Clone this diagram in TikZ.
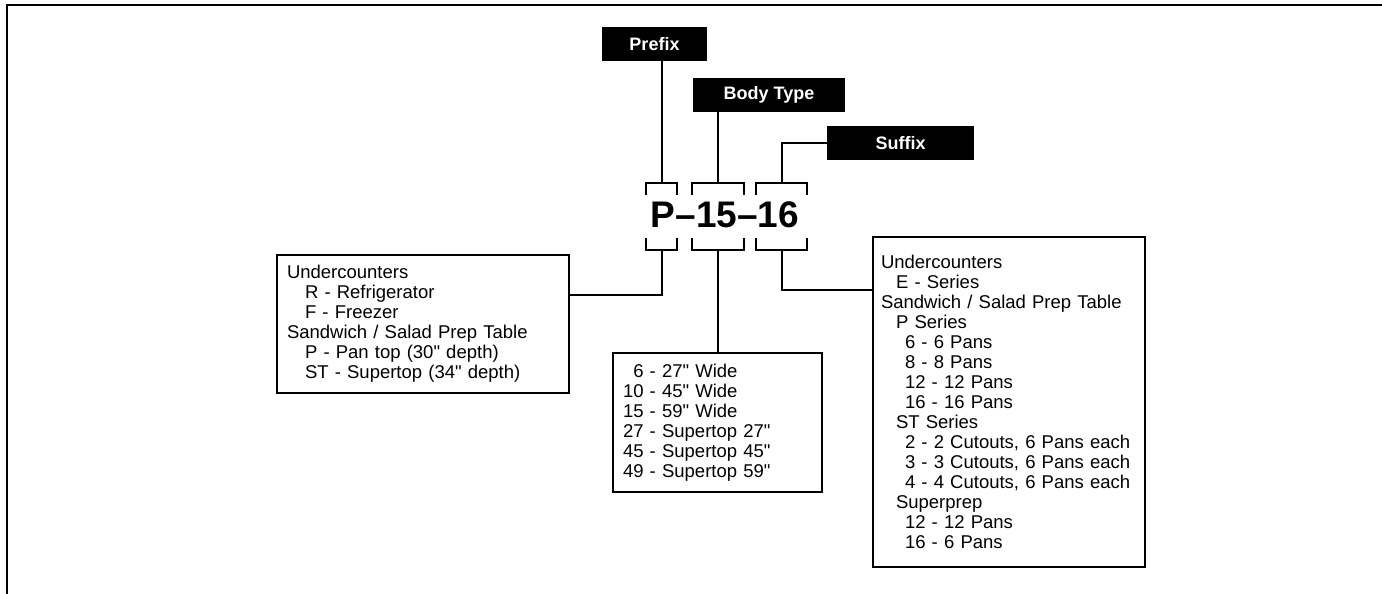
\documentclass[tikz,border=0pt]{standalone}
\usepackage{fontspec}
\newfontfamily\arial{Liberation Sans}
\usepackage{tikz}
\usetikzlibrary{calc}

\tikzset{
  wire/.style={line width=1pt},
  tagbox/.style={fill=black, text=white, inner sep=0pt, minimum height=17pt,
    font=\arial\fontsize{9}{10}\selectfont\bfseries},
  listbox/.style={draw, line width=1pt, align=left, inner xsep=5pt, inner ysep=0pt,
    font=\arial\fontsize{9.25}{10}\selectfont},
}

\begin{document}
\begin{tikzpicture}[x=0.5pt, y=-0.5pt]
  \useasboundingbox (0,0) rectangle (1382,594);
  \draw[wire] (1382,5) -- (7,5) -- (7,594);

  % heading tags
  \node[tagbox, minimum width=52.5pt] (prefix) at (654.5,44) {Prefix};
  \node[tagbox, minimum width=76pt] (bodytype) at (769,95) {Body Type};
  \node[tagbox, minimum width=73.5pt] (suffix) at (900.5,143) {Suffix};

  % model number and its brackets
  \node[font=\arial\fontsize{18.5}{20}\selectfont\bfseries] (model) at (725,215) {P–15–16};
  \foreach \name/\xa/\xb in {P/646/677, B/692/744, S/756/807} {
    \draw[wire] (\xa,195) -- (\xa,183) -- (\xb,183) -- (\xb,195);
    \draw[wire] (\xa,238) -- (\xa,250) -- (\xb,250) -- (\xb,238);
    \coordinate (top\name) at ({(\xa+\xb)/2},183);
    \coordinate (bot\name) at ({(\xa+\xb)/2},250);
  }
  \draw[wire] (topP) -- (topP |- prefix.south);
  \draw[wire] (topB) -- (topB |- bodytype.south);
  \draw[wire] (topS) |- (suffix.west);

  % option lists
  \node[listbox, text width=136pt, minimum height=69pt] (prefixlist) at (423,324) {%
    Undercounters\\
    \hspace*{9pt}R - Refrigerator\\
    \hspace*{9pt}F - Freezer\\
    Sandwich / Salad Prep Table\\
    \hspace*{9pt}P - Pan top (30" depth)\\
    \hspace*{9pt}ST - Supertop (34" depth)};
  \node[listbox, text width=94.5pt, minimum height=69.5pt] (bodylist) at (717.5,422.5) {%
    \phantom{1}6 - 27" Wide\\
    10 - 45" Wide\\
    15 - 59" Wide\\
    27 - Supertop 27"\\
    45 - Supertop 45"\\
    49 - Supertop 59"};
  \node[listbox, inner xsep=4pt, text width=128pt, minimum height=165pt] (suffixlist) at (1009,402) {%
    Undercounters\\
    \hspace*{7.5pt}E - Series\\
    Sandwich / Salad Prep Table\\
    \hspace*{7.5pt}P Series\\
    \hspace*{12pt}6 - 6 Pans\\
    \hspace*{12pt}8 - 8 Pans\\
    \hspace*{12pt}12 - 12 Pans\\
    \hspace*{12pt}16 - 16 Pans\\
    \hspace*{7.5pt}ST Series\\
    \hspace*{12pt}2 - 2 Cutouts, 6 Pans each\\
    \hspace*{12pt}3 - 3 Cutouts, 6 Pans each\\
    \hspace*{12pt}4 - 4 Cutouts, 6 Pans each\\
    \hspace*{7.5pt}Superprep\\
    \hspace*{12pt}12 - 12 Pans\\
    \hspace*{12pt}16 - 6 Pans};

  \draw[wire] (botP) |- ($(prefixlist.north east)+(0,41)$);
  \draw[wire] (botB) -- (botB |- bodylist.north);
  \draw[wire] (botS) |- ($(suffixlist.north west)+(0,54)$);
\end{tikzpicture}
\end{document}
